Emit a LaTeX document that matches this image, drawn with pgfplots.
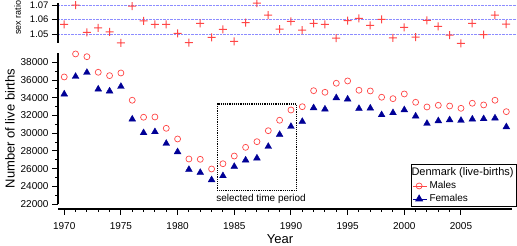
\documentclass[border=0pt]{standalone}
\usepackage{fontspec}
\setmainfont{Liberation Sans}
\usepackage{pgfplots}
\pgfplotsset{compat=1.18}
\usepackage{pgfplotstable}
\definecolor{mred}{RGB}{255,70,70}
\definecolor{mnavy}{RGB}{0,0,150}
\definecolor{gridblue}{RGB}{140,140,255}
\pgfdeclareplotmark{fplus}{%
  \pgfpathrectangle{\pgfpoint{-\pgfplotmarksize}{-0.5bp}}{\pgfpoint{2\pgfplotmarksize}{1bp}}%
  \pgfpathrectangle{\pgfpoint{-0.5bp}{-\pgfplotmarksize}}{\pgfpoint{1bp}{2\pgfplotmarksize}}%
  \pgfusepathqfill}

\pgfplotstableread{
year males females ratio
1970 36350 34410 1.0567
1971 38950 36400 1.0700
1972 38640 36850 1.0512
1973 36880 34970 1.0543
1974 36500 34750 1.0514
1975 36800 35270 1.0438
1976 33720 31580 1.0693
1977 31800 30040 1.0590
1978 31830 30150 1.0567
1979 30550 28830 1.0567
1980 29345 27890 1.0505
1981 27085 25890 1.0440
1982 27050 25550 1.0574
1983 25955 24725 1.0477
1984 26550 25180 1.0532
1985 27420 26230 1.0450
1986 28400 26950 1.0578
1987 29040 27180 1.0714
1988 30280 28490 1.0631
1989 31460 29840 1.0534
1990 32620 30750 1.0588
1991 32990 31310 1.0526
1992 34800 32860 1.0574
1993 34620 32710 1.0567
1994 35640 33990 1.0472
1995 35900 33840 1.0592
1996 34850 32780 1.0608
1997 34770 32820 1.0560
1998 34060 32070 1.0601
1999 33900 32300 1.0474
2000 34430 32630 1.0546
2001 33490 31920 1.0479
2002 32960 31090 1.0594
2003 33150 31390 1.0553
2004 33070 31500 1.0493
2005 32810 31430 1.0436
2006 33380 31580 1.0574
2007 33190 31620 1.0495
2008 33720 31700 1.0631
2009 32430 30710 1.0569
}\data

\begin{document}
\begin{tikzpicture}
\useasboundingbox (-58bp,-42bp) rectangle (459bp,204bp);
% main axis
\begin{axis}[
  at={(0,0)}, anchor=south west,
  scale only axis, width=454bp, height=150.5bp,
  xmin=1969.45, xmax=2009.5, ymin=22000, ymax=39000,
  axis x line*=bottom, axis y line*=left,
  axis x line shift=5bp,
  axis line style={line width=1.1bp,-},
  every tick/.style={black, line width=1bp},
  tick align=outside, major tick length=6bp, minor tick length=3bp,
  xtick={1970,1975,...,2005}, minor x tick num=4,
  ytick={22000,24000,...,38000}, minor y tick num=1,
  scaled y ticks=false,
  /pgf/number format/assume math mode=true,
  /pgf/number format/1000 sep={},
  tick label style={font=\fontsize{10bp}{12bp}\selectfont},
  xticklabel style={yshift=-4bp},
  xlabel={Year}, ylabel={Number of live births},
  every axis y label/.style={at={(rel axis cs:-0.1057,0.5)}, rotate=90, anchor=center, font=\fontsize{13bp}{15bp}\selectfont},
  every axis x label/.style={at={(rel axis cs:0.489,-0.2326)}, anchor=center, font=\fontsize{13bp}{15bp}\selectfont},
  clip=false,
  legend image code/.code={\path (0bp,0bp) -- (14bp,0bp); \draw[#1] plot coordinates {(6bp,0bp)};},
  legend cell align=left,
  legend style={at={(rel axis cs:1.011,0.266)}, anchor=north east,
    draw=black, line width=0.8bp, inner xsep=1bp, inner ysep=1.5bp,
    font=\fontsize{10bp}{11bp}\selectfont, row sep=0.3bp},
]
\addlegendimage{empty legend}
\addlegendentry{\hspace*{-18bp}\fontsize{11bp}{12bp}\selectfont Denmark (live-births)}
\addplot[only marks, mark=o, mark size=3bp, color=mred, mark options={draw=mred, line width=0.7bp}] table[x=year,y=males] {\data};
\addlegendentry{Males}
\addplot[only marks, mark=triangle*, mark size=3.9bp, color=mnavy] table[x=year,y=females] {\data};
\addlegendentry{Females}
\draw[black, line width=1.2bp, densely dotted] (axis cs:1983.5,23500) rectangle (axis cs:1990.5,33300);
\node[anchor=north west, inner sep=0pt, font=\fontsize{10bp}{12bp}\selectfont] at (axis cs:1983.4,23150) {selected time period};
\end{axis}
% sex ratio axis
\begin{axis}[
  at={(0,161bp)}, anchor=south west,
  scale only axis, width=459bp, height=39.7bp,
  xmin=1969.45, xmax=2009.95, ymin=1.0438, ymax=1.0712,
  axis x line=none, axis y line*=left,
  axis line style={line width=1.1bp,-},
  every tick/.style={black, line width=1bp},
  tick align=outside, major tick length=6bp,
  xtick=\empty,
  ytick={1.05,1.06,1.07},
  /pgf/number format/assume math mode=true,
  yticklabel style={/pgf/number format/.cd, fixed, precision=2, fixed zerofill},
  tick label style={font=\fontsize{9.5bp}{11bp}\selectfont},
  ymajorgrids, grid style={gridblue, densely dotted, line width=0.6bp},
  ylabel={sex ratio},
  every axis y label/.style={at={(rel axis cs:-0.088,0.642)}, rotate=90, anchor=center, font=\fontsize{9bp}{11bp}\selectfont},
  clip=false,
]
\addplot[only marks, mark=fplus, mark size=4bp, color=mred, mark options={fill=mred, draw=none}] table[x=year,y=ratio] {\data};
\end{axis}
\end{tikzpicture}
\end{document}
